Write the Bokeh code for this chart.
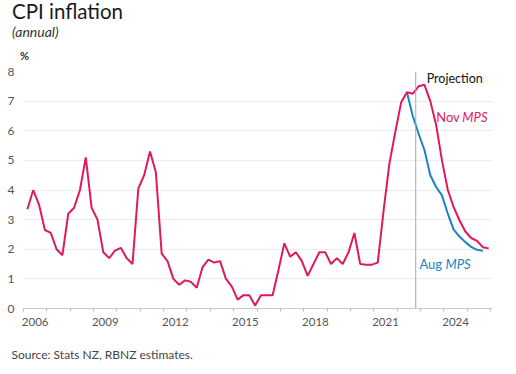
import pandas as pd
from bokeh.plotting import figure
from bokeh.layouts import column
from bokeh.models import Range1d, FixedTicker, Label, Span
from bokeh.embed import file_html
from bokeh.resources import INLINE

# ---- data (annual CPI inflation, %) ----
actual_quarters = [str(q) for q in pd.period_range("2006Q1", "2022Q3", freq="Q")]
actual_cpi = [3.35, 4.0, 3.5, 2.65, 2.55, 2.0, 1.8, 3.2, 3.4, 4.0, 5.1, 3.4,
              3.0, 1.9, 1.7, 1.95, 2.05, 1.7, 1.5, 4.05, 4.5, 5.3, 4.6, 1.85,
              1.6, 1.0, 0.8, 0.95, 0.9, 0.7, 1.4, 1.65, 1.55, 1.6, 1.0, 0.75,
              0.3, 0.45, 0.45, 0.1, 0.45, 0.45, 0.45, 1.3, 2.2, 1.75, 1.9, 1.6,
              1.1, 1.5, 1.9, 1.9, 1.5, 1.7, 1.5, 1.9, 2.55, 1.5, 1.48, 1.48,
              1.55, 3.3, 4.9, 5.95, 6.95, 7.3, 7.25]

nov_quarters = [str(q) for q in pd.period_range("2022Q4", "2025Q4", freq="Q")]
nov_mps = [7.5, 7.55, 7.0, 6.2, 5.0, 4.0, 3.42, 2.98, 2.6, 2.38, 2.28, 2.07, 2.03]

aug_quarters = [str(q) for q in pd.period_range("2022Q2", "2025Q3", freq="Q")]
aug_mps = [7.3, 6.5, 5.9, 5.35, 4.5, 4.1, 3.82, 3.2, 2.66, 2.43, 2.24, 2.08, 1.98, 1.95]

tick_years = ["2006", "2009", "2012", "2015", "2018", "2021", "2024"]
y_ticks = [0, 1, 2, 3, 4, 5, 6, 7, 8]
projection_start = "2022-11"

RED = "#e2185f"
BLUE = "#1b84c6"
FONT = "Lato"
W = 516


def qpos(q):
    p = pd.Period(q, freq="Q")
    return p.year + (p.quarter * 3 - 1) / 12.0


red_x = [qpos(q) for q in actual_quarters + nov_quarters]
red_y = actual_cpi + nov_mps
blue_x = [qpos(q) for q in aug_quarters]


def no_align(f):
    try:
        f.frame_align = False
    except Exception:
        pass


def text_panel(height):
    f = figure(width=W, height=height, output_backend="svg", toolbar_location=None,
               x_range=Range1d(0, W), y_range=Range1d(height, 0),
               x_axis_location=None, y_axis_location=None,
               min_border=0, min_border_left=0, min_border_right=0,
               min_border_top=0, min_border_bottom=0)
    f.outline_line_color = None
    f.grid.grid_line_color = None
    no_align(f)
    return f


def lab(fig, text, x, y, size, color="#222222", style="normal",
        align="left", baseline="middle"):
    fig.add_layout(Label(x=x, y=y, text=text, text_font=FONT, text_font_size=size,
                         text_color=color, text_font_style=style, text_align=align,
                         text_baseline=baseline))


# ---- header ----
head = text_panel(63)
lab(head, "CPI inflation", 11.5, 10.0, "20.5px", "#1a1a1a")
lab(head, "(annual)", 11.5, 31.0, "14px", "#333333", style="italic")
lab(head, "%", 19.5, 55.0, "11px", "#333333", style="bold")

# ---- main chart ----
p = figure(width=W, height=272, output_backend="svg", toolbar_location=None,
           x_range=Range1d(2006, 2026.08), y_range=Range1d(0, 8),
           min_border_left=23, min_border_right=24, min_border_top=8,
           min_border_bottom=27)
no_align(p)
p.outline_line_color = None
p.background_fill_color = "white"
p.border_fill_color = "white"

p.xgrid.grid_line_color = None
p.ygrid.grid_line_color = "#ececec"
p.ygrid.grid_line_width = 1

p.xaxis.ticker = FixedTicker(ticks=[int(y) + 0.5 for y in tick_years],
                             minor_ticks=list(range(2006, 2027)))
p.xaxis.major_label_overrides = {int(y) + 0.5: y for y in tick_years}
p.xaxis.major_tick_line_color = None
p.xaxis.minor_tick_line_color = "#bdbdbd"
p.xaxis.minor_tick_out = 3
p.xaxis.minor_tick_in = 0
p.xaxis.axis_line_color = "#c8c8c8"
p.xaxis.major_label_standoff = 3
p.xaxis.major_label_text_font = FONT
p.xaxis.major_label_text_font_size = "11.5px"
p.xaxis.major_label_text_color = "#555555"

p.yaxis.ticker = FixedTicker(ticks=y_ticks)
p.yaxis.axis_line_color = None
p.yaxis.major_tick_line_color = None
p.yaxis.minor_tick_line_color = None
p.yaxis.major_label_standoff = 3
p.yaxis.major_label_text_font = FONT
p.yaxis.major_label_text_font_size = "12px"
p.yaxis.major_label_text_color = "#555555"

ps = pd.Timestamp(projection_start)
p.add_layout(Span(location=ps.year + (ps.month - 1) / 12.0 - 0.04, dimension="height",
                  line_color="#a8a8a8", line_width=1))

p.line(blue_x, aug_mps, line_color=BLUE, line_width=2)
p.line(red_x, red_y, line_color=RED, line_width=2)

lab(p, "Projection", 2023.26, 7.75, "12.5px", "#111111")
lab(p, "Nov", 2023.67, 6.48, "13px", RED)
lab(p, "MPS", 2024.79, 6.48, "13px", RED, style="italic")
lab(p, "Aug", 2022.95, 1.5, "13px", BLUE)
lab(p, "MPS", 2024.07, 1.5, "13px", BLUE, style="italic")

# ---- footer ----
foot = text_panel(39)
lab(foot, "Source: Stats NZ, RBNZ estimates.", 11, 19, "12px", "#444444")

layout = column(head, p, foot, spacing=0)
open("out.html", "w").write(file_html(layout, INLINE))
